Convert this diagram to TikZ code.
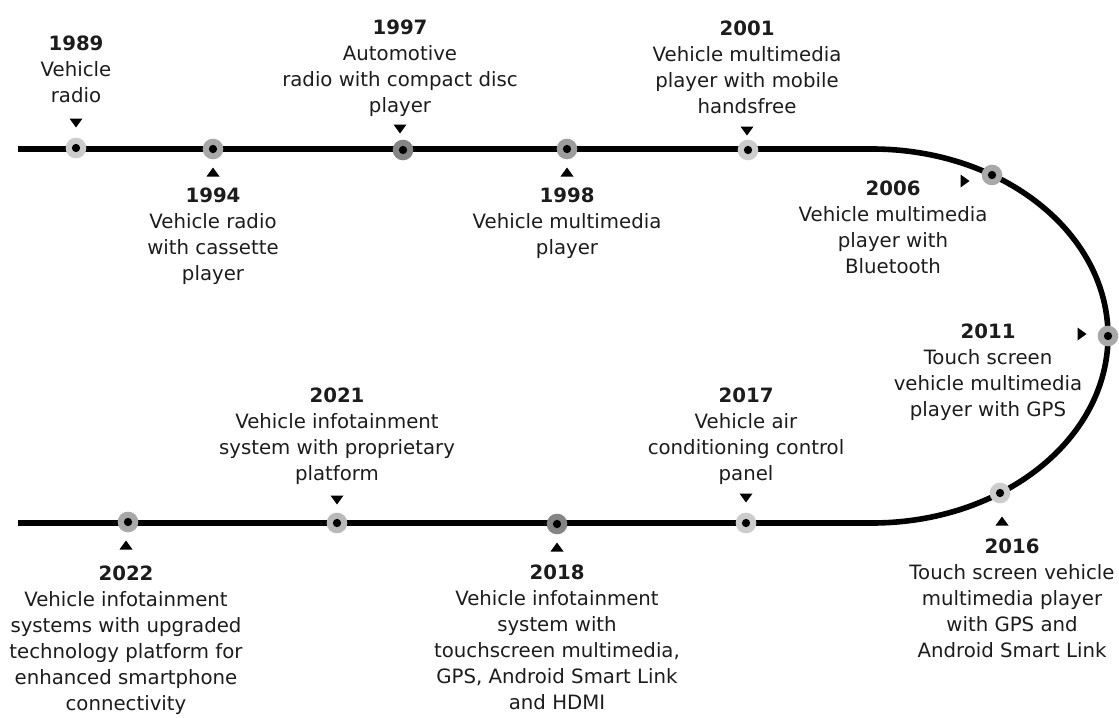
\documentclass[tikz,border=0pt]{standalone}
\usepackage{fontspec}
\setmainfont{DejaVu Sans}
\usetikzlibrary{positioning}

\definecolor{ringlight}{HTML}{CCCCCC}
\definecolor{ringmid}{HTML}{A8A8A8}
\definecolor{ringdark}{HTML}{858585}
\definecolor{inktext}{HTML}{1C1C1C}

\tikzset{
	road/.style={line width=4.2pt, black},
	stop/.style={circle, fill=#1, minimum size=15.5pt, inner sep=0pt,
		path picture={\fill[black] (path picture bounding box.center) circle (3.1pt);}},
	lbl/.style={align=center, inner sep=0pt, anchor=north, text=inktext,
		font=\fontsize{14.8}{19.4}\selectfont},
	tri/.pic={\fill[black] (-6.5,-4.5) -- (6.5,-4.5) -- (0,4.5) -- cycle;}
}

\newcommand{\yr}[1]{\textbf{#1}}

\begin{document}
\begin{tikzpicture}[x=0.75pt,y=-0.75pt]
	\useasboundingbox (0,0) rectangle (1119,717);

	% the road
	\draw[road] (18,149) -- (872,149) arc[start angle=-90, end angle=90, x radius=236, y radius=187] -- (18,523);

	% stops
	\node[stop=ringlight] (m1989) at (76,148) {};
	\node[stop=ringmid] (m1994) at (213,149) {};
	\node[stop=ringdark] (m1997) at (403,150) {};
	\node[stop=ringdark!80] (m1998) at (567,149) {};
	\node[stop=ringlight] (m2001) at (748,150) {};
	\node[stop=ringmid] (m2006) at (992,175) {};
	\node[stop=ringmid] (m2011) at (1108,336) {};
	\node[stop=ringlight] (m2016) at (1000,493) {};
	\node[stop=ringlight] (m2017) at (746,523) {};
	\node[stop=ringdark] (m2018) at (557,524) {};
	\node[stop=ringmid!80] (m2021) at (337,523) {};
	\node[stop=ringmid] (m2022) at (128,522) {};

	% pointers
	\pic at (76,123) {tri};
	\pic[rotate=180] at (213,172) {tri};
	\pic at (400,129) {tri};
	\pic[rotate=180] at (567,172) {tri};
	\pic at (747,131) {tri};
	\pic[rotate=90] at (965,181) {tri};
	\pic[rotate=90] at (1082,334) {tri};
	\pic[rotate=180] at (1002,521) {tri};
	\pic at (746,498) {tri};
	\pic[rotate=180] at (557,547) {tri};
	\pic at (337,500) {tri};
	\pic[rotate=180] at (126,545) {tri};

	% labels
	\node[lbl] (t1989) at (76,36) {\yr{1989}\\Vehicle\\radio};
	\node[lbl] (t1994) at (213,188) {\yr{1994}\\Vehicle radio\\with cassette\\player};
	\node[lbl] (t1997) at (400,20) {\yr{1997}\\Automotive\\radio with compact disc\\player};
	\node[lbl] (t1998) at (567,188) {\yr{1998}\\Vehicle multimedia\\player};
	\node[lbl] (t2001) at (747,21) {\yr{2001}\\Vehicle multimedia\\player with mobile\\handsfree};
	\node[lbl] (t2006) at (893,181) {\yr{2006}\\Vehicle multimedia\\player with\\Bluetooth};
	\node[lbl] (t2011) at (988,324) {\yr{2011}\\Touch screen\\vehicle multimedia\\player with GPS};
	\node[lbl] (t2016) at (1012,539) {\yr{2016}\\Touch screen vehicle\\multimedia player\\with GPS and\\Android Smart Link};
	\node[lbl] (t2017) at (746,388) {\yr{2017}\\Vehicle air\\conditioning control\\panel};
	\node[lbl] (t2018) at (557,565) {\yr{2018}\\Vehicle infotainment\\system with\\touchscreen multimedia,\\GPS, Android Smart Link\\and HDMI};
	\node[lbl] (t2021) at (337,388) {\yr{2021}\\Vehicle infotainment\\system with proprietary\\platform};
	\node[lbl] (t2022) at (126,566) {\yr{2022}\\Vehicle infotainment\\systems with upgraded\\technology platform for\\enhanced smartphone\\connectivity};
\end{tikzpicture}
\end{document}
